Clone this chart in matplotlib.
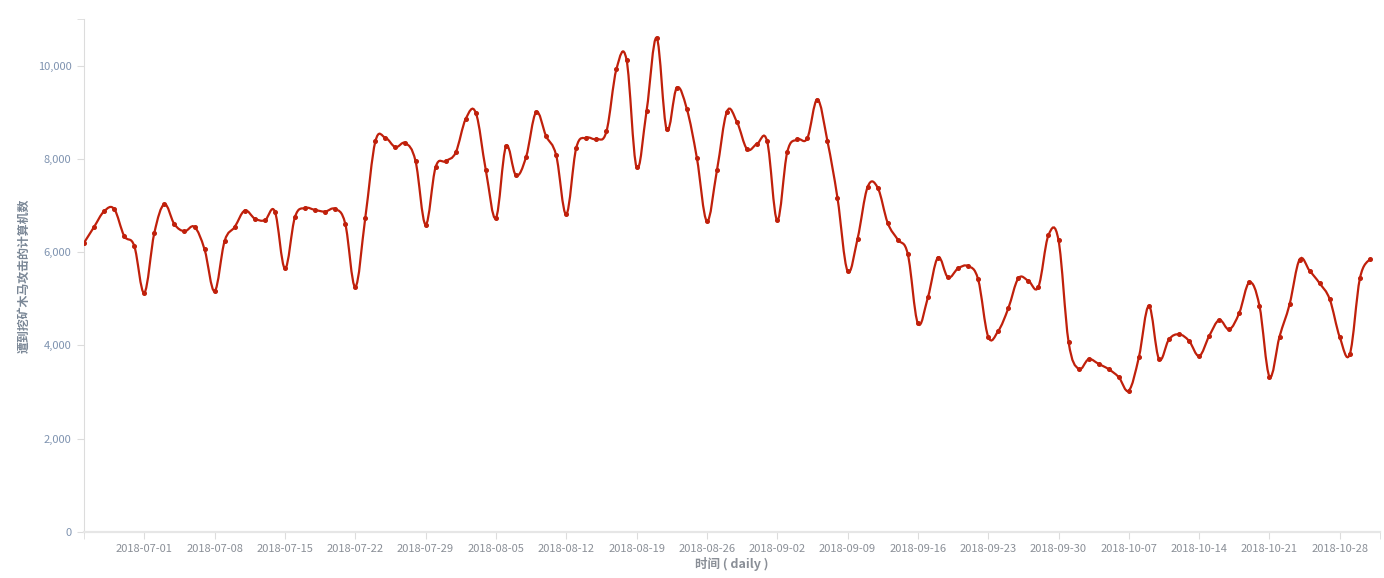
import numpy as np
import pandas as pd
import matplotlib
matplotlib.use('Agg')
import matplotlib.pyplot as plt
import matplotlib.dates as mdates
from matplotlib.path import Path
from matplotlib.patches import PathPatch
from matplotlib.ticker import FuncFormatter

plt.rcParams['font.family'] = ['Noto Sans CJK SC', 'DejaVu Sans']

start_date = '2018-06-25'
end_limit = '2018-11-01'
y_label = '遭到挖矿木马攻击的计算机数'
x_label = '时间 ( daily )'

# daily counts, 2018-06-25 .. 2018-10-31
counts = [
    6200, 6541, 6877, 6926, 6349, 6135,
    5130, 6413, 7027, 6599, 6449, 6541, 6058,
    5166, 6242, 6541, 6892, 6721, 6684, 6871,
    5651, 6755, 6948, 6905, 6871, 6927, 6614,
    5258, 6742, 8374, 8453, 8253, 8339, 7953,
    6592, 7825, 7953, 8139, 8860, 8988, 7754,
    6734, 8267, 7647, 8039, 9001, 8488, 8075,
    6813, 8239, 8453, 8424, 8588, 9929, 10128,
    7825, 9037, 10592, 8631, 9523, 9074, 8026,
    6670, 7754, 9016, 8788, 8210, 8325, 8374,
    6684, 8146, 8417, 8446, 9273, 8381, 7162,
    5600, 6292, 7398, 7384, 6627, 6271, 5957,
    4475, 5031, 5886, 5459, 5651, 5701, 5416,
    4189, 4310, 4795, 5437, 5387, 5258, 6364,
    6257, 4081, 3497, 3704, 3604, 3490, 3319,
    3033, 3747, 4845, 3711, 4132, 4239, 4096,
    3775, 4203, 4545, 4346, 4702, 5351, 4852,
    3333, 4189, 4881, 5843, 5601, 5330, 4988,
    4175, 3818, 5437, 5857,
]
dates = pd.date_range(start_date, periods=len(counts), freq='D')
tick_dates = pd.date_range('2018-07-01', '2018-10-28', freq='7D')
y_ticks = [0, 2000, 4000, 6000, 8000, 10000]
y_max = 11000

line_color = '#c0200b'
axis_color = '#dcdcdc'


def smooth_path(xs, ys, k=0.18):
    # cardinal-spline style bezier through the points
    pts = np.column_stack([xs, ys]).astype(float)
    n = len(pts)
    verts = [pts[0]]
    codes = [Path.MOVETO]
    tang = []
    for i in range(n):
        prev_p = pts[i - 1] if i > 0 else pts[i]
        next_p = pts[i + 1] if i < n - 1 else pts[i]
        tang.append((next_p - prev_p) * k)
    for i in range(n - 1):
        verts += [pts[i] + tang[i], pts[i + 1] - tang[i + 1], pts[i + 1]]
        codes += [Path.CURVE4] * 3
    return Path(np.array(verts), codes)


fig = plt.figure(figsize=(13.84, 5.78), dpi=100)
ax = fig.add_axes([0.0607, 0.0796, 0.9364, 0.8875])

xnum = mdates.date2num(dates)
ax.set_xlim(mdates.date2num(dates[0]), mdates.date2num(pd.Timestamp(end_limit)))
ax.set_ylim(0, y_max)

patch = PathPatch(smooth_path(xnum, counts), facecolor='none',
                  edgecolor=line_color, linewidth=1.6, zorder=3)
ax.add_patch(patch)
ax.plot(xnum, counts, 'o', color=line_color, markersize=2.6, zorder=4)

for s in ['top', 'right']:
    ax.spines[s].set_visible(False)
ax.spines['left'].set_color(axis_color)
ax.spines['bottom'].set_color('#e6e6e6')
ax.spines['bottom'].set_linewidth(1.6)

ax.set_xticks(mdates.date2num(tick_dates))
ax.set_xticklabels([d.strftime('%Y-%m-%d') for d in tick_dates])
ax.set_xticks(list(ax.get_xlim()), minor=True)
ax.set_yticks(y_ticks)
ax.yaxis.set_major_formatter(FuncFormatter(lambda v, p: f'{int(v):,}'))
ax.set_yticks([y_max], minor=True)

ax.tick_params(axis='x', which='both', length=5, color=axis_color,
               labelsize=8, labelcolor='#8a8f97', pad=4)
ax.tick_params(axis='y', which='both', length=5, color=axis_color,
               labelsize=8, labelcolor='#7f93b0', pad=4)

ax.set_xlabel(x_label, fontsize=9, fontweight='bold', color='#8a8f97')
ax.xaxis.set_label_coords(0.5, -0.048)
ax.set_ylabel(y_label, fontsize=8.6, fontweight='bold', color='#7a8796')
ax.yaxis.set_label_coords(-0.041, 0.5)

fig.savefig('out.png', dpi=100)
